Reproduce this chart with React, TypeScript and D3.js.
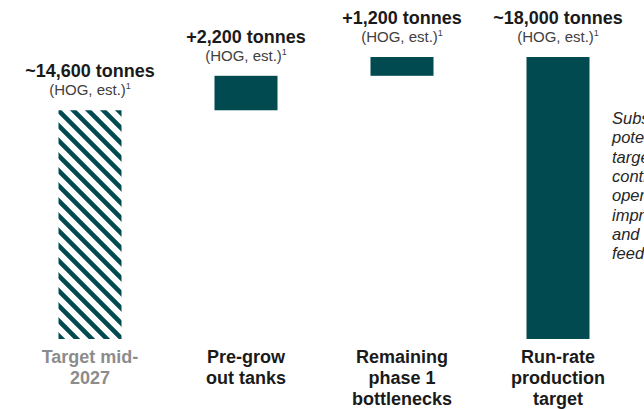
import React from 'react'
import * as d3 from 'd3'

const categories = ['target', 'pregrow', 'bottlenecks', 'runrate']
const values = [14600, 2200, 1200, 18000]
const kinds = ['hatched', 'delta', 'delta', 'total']
const valueLabels = ['~14,600 tonnes', '+2,200 tonnes', '+1,200 tonnes', '~18,000 tonnes']
const categoryLines = [
  ['Target mid-', '2027'],
  ['Pre-grow', 'out tanks'],
  ['Remaining', 'phase 1', 'bottlenecks'],
  ['Run-rate', 'production', 'target'],
]
// side note runs off the right edge in the original slide
const noteLines = ['Substantial', 'potential to', 'target', 'continuous', 'operational', 'improvement', 'and', 'feed']

const W = 644
const H = 409
const TEAL = '#004a50'
const FONT = 'Arial, "Liberation Sans", sans-serif'

export default function App() {
  const x = d3.scalePoint<string>().domain(categories).range([12, 636]).padding(0.5)
  const y = d3.scaleLinear().domain([0, 18000]).range([339, 57])
  const barW = 63

  // waterfall start/end
  let running = 0
  const bars = values.map((v, i) => {
    let lo = 0
    let hi = v
    if (kinds[i] === 'delta') {
      lo = running
      hi = running + v
      running = hi
    } else if (kinds[i] === 'hatched') {
      running = v
    }
    return { cat: categories[i], lo, hi, kind: kinds[i], label: valueLabels[i] }
  })

  return (
    <svg
      width={W}
      height={H}
      viewBox={`0 0 ${W} ${H}`}
      style={{ position: 'absolute', left: 0, top: 0, background: '#fff', overflow: 'hidden' }}
      fontFamily={FONT}
    >
      <defs>
        <pattern id="hatch" patternUnits="userSpaceOnUse" width={15} height={15} x={58} y={110}>
          <rect width={15} height={15} fill="#fff" />
          <path
            d="M-4,-4 L19,19 M-4,11 L4,19 M11,-4 L19,4"
            stroke={TEAL}
            strokeWidth={4.6}
          />
        </pattern>
      </defs>

      {bars.map((b, i) => {
        const cx = x(b.cat) as number
        const top = y(b.hi)
        const bottom = y(b.lo)
        return (
          <g key={b.cat}>
            <rect
              x={cx - barW / 2}
              y={top}
              width={barW}
              height={bottom - top}
              fill={b.kind === 'hatched' ? 'url(#hatch)' : TEAL}
            />
            <text x={cx} y={top - 33} textAnchor="middle" fontSize={18} fontWeight="bold" fill="#1a1a1a">
              {b.label}
            </text>
            <text x={cx} y={top - 15} textAnchor="middle" fontSize={15} fill="#404040">
              (HOG, est.)
              <tspan fontSize={9} dy={-6}>1</tspan>
            </text>
            {categoryLines[i].map((line, j) => (
              <text
                key={j}
                x={cx}
                y={363 + j * 21}
                textAnchor="middle"
                fontSize={18}
                fontWeight="bold"
                fill={i === 0 ? '#8c8c8c' : '#1a1a1a'}
              >
                {line}
              </text>
            ))}
          </g>
        )
      })}

      {noteLines.map((line, j) => (
        <text
          key={j}
          x={612}
          y={124 + j * 19.3}
          fontSize={16.5}
          fontStyle="italic"
          fill="#262626"
        >
          {line}
        </text>
      ))}
    </svg>
  )
}
